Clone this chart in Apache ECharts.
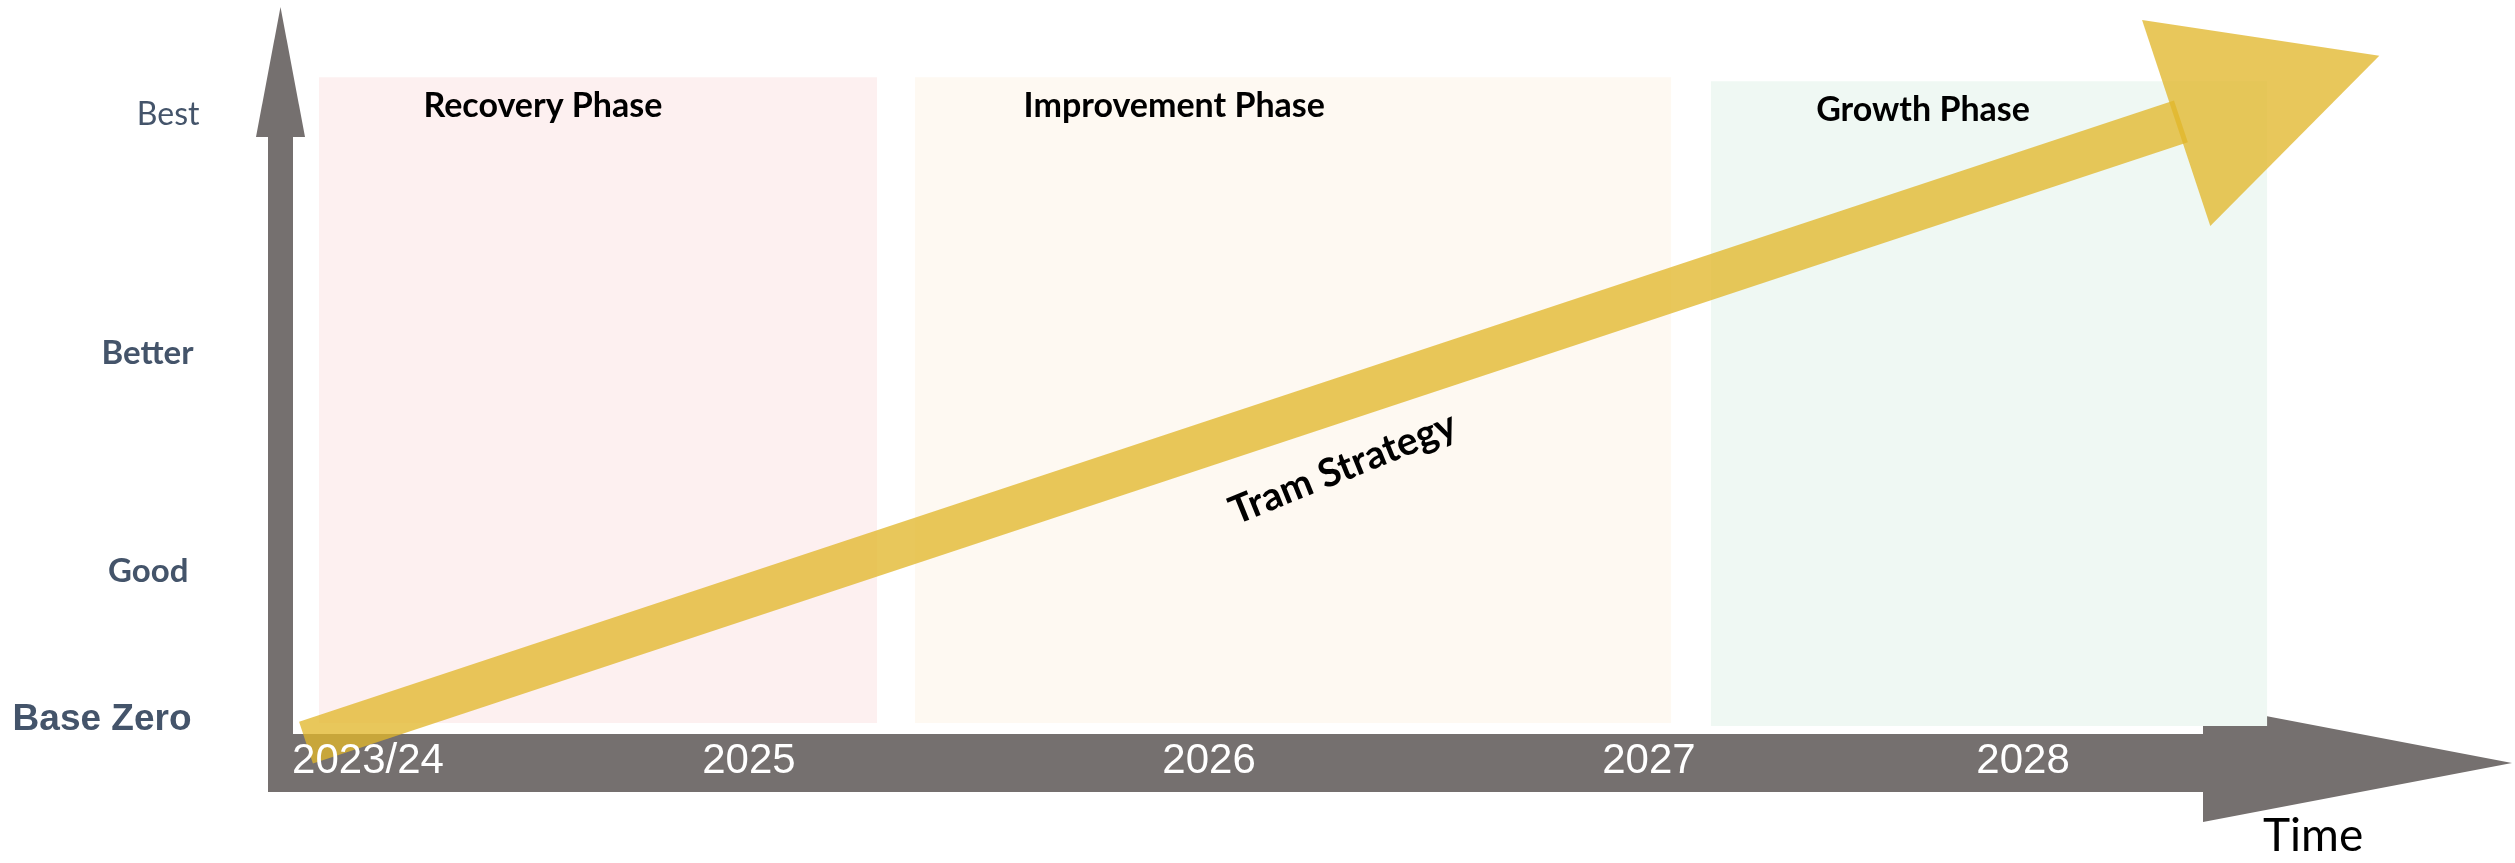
<!DOCTYPE html>
<html>
<head>
<meta charset="utf-8">
<script src="https://cdn.jsdelivr.net/npm/echarts@6/dist/echarts.min.js"></script>
<style>
html,body{margin:0;padding:0;background:#fff;}
#chart{width:2515px;height:863px;}
</style>
</head>
<body>
<div id="chart"></div>
<script>
// ---- data (timeline 0-100 on x, performance index 0-100 on y) ----
const yearLabels = ['2023/24', '2025', '2026', '2027', '2028'];
const yearPositions = [4.92, 23.67, 46.31, 67.96, 86.37];

const levelLabels = ['Base Zero', 'Good', 'Better', 'Best'];
const levelValues = [10.4, 31.94, 63.44, 97.83];

const phaseNames = ['Recovery Phase', 'Improvement Phase', 'Growth Phase'];
const phaseStart = [2.51, 31.84, 71.01];
const phaseEnd = [29.97, 69.05, 98.38];
const phaseBottom = [9.97, 9.97, 9.54];
const phaseTop = [103.3, 103.3, 102.7];
const phaseTitleX = [13.53, 44.6, 81.45];
const phaseTitleY = [99.13, 99.13, 98.55];

const strategyName = 'Tram Strategy';
const strategyFrom = [1.87, 7.15];
const strategyTo = [94.14, 96.9];
const strategyLabelAt = [52.9, 46.8];

const axisNameX = 'Time';

// ---- styles ----
const GRAY = '#75706f';
const GOLD = 'rgba(225,182,41,0.77)';
const phaseColors = ['#fdf0f0', '#fef9f2', '#eff8f3'];
const levelStyleKeys = ['base', 'good', 'better', 'best'];

const chart = echarts.init(document.getElementById('chart'), null, {renderer: 'canvas'});

const phaseData = phaseNames.map((n, i) => [phaseStart[i], phaseEnd[i], phaseBottom[i], phaseTop[i], phaseTitleX[i], phaseTitleY[i]]);

function nearestIndex(arr, v) {
  let best = 0, d = Infinity;
  arr.forEach((p, i) => { if (Math.abs(p - v) < d) { d = Math.abs(p - v); best = i; } });
  return best;
}

const option = {
  backgroundColor: '#ffffff',
  animation: false,
  title: {
    text: axisNameX, left: 2263, top: 813, padding: 0,
    textStyle: {fontFamily: 'Lato', fontSize: 46, fontWeight: 'normal', color: '#000000'}
  },
  grid: {left: 268, right: 215, top: 100, bottom: 71, containLabel: false},
  xAxis: [
    {
      type: 'value', min: 0, max: 100, position: 'bottom', offset: -29, z: 0,
      axisLine: {show: true, lineStyle: {color: GRAY, width: 58, cap: 'butt'},
        symbol: ['none', 'triangle'], symbolSize: [118, 309], symbolOffset: [0, 57.5]},
      axisTick: {show: false}, axisLabel: {show: false}, splitLine: {show: false}
    },
    {
      type: 'value', min: 0, max: 100, position: 'bottom', offset: -29, z: 10,
      axisLine: {show: false}, axisTick: {show: false}, splitLine: {show: false},
      axisLabel: {
        show: true, customValues: yearPositions, margin: -2, verticalAlign: 'middle', align: 'center',
        color: '#ffffff', fontFamily: 'Liberation Sans', fontSize: 42,
        formatter: function (v) { return yearLabels[nearestIndex(yearPositions, v)]; }
      }
    }
  ],
  yAxis: {
    type: 'value', min: 0, max: 100, position: 'left', offset: -12.5, z: 0,
    axisLine: {show: true, lineStyle: {color: GRAY, width: 25, cap: 'butt'},
      symbol: ['none', 'triangle'], symbolSize: [49, 130], symbolOffset: [0, 28]},
    axisTick: {show: false}, splitLine: {show: false},
    axisLabel: {
      show: true, customValues: levelValues, margin: 81, align: 'right', verticalAlign: 'middle',
      formatter: function (v) {
        const i = nearestIndex(levelValues, v);
        return '{' + levelStyleKeys[i] + '|' + levelLabels[i] + '}';
      },
      rich: {
        best: {fontFamily: 'Lato', fontSize: 32, fontWeight: 'normal', color: '#44546a'},
        better: {fontFamily: 'Lato', fontSize: 33, fontWeight: 'bold', color: '#44546a', padding: [0, 6, 0, 0]},
        good: {fontFamily: 'Lato', fontSize: 33, fontWeight: 'bold', color: '#44546a', padding: [0, 11, 0, 0]},
        base: {fontFamily: 'Liberation Sans', fontSize: 37, fontWeight: 'bold', color: '#44546a', padding: [0, 8, 0, 0]}
      }
    }
  },
  series: [
    {
      type: 'custom', name: 'Phases', xAxisIndex: 0, yAxisIndex: 0, clip: false, z: 1,
      data: phaseData,
      renderItem: function (params, api) {
        const i = params.dataIndex;
        const tl = api.coord([api.value(0), api.value(3)]);
        const br = api.coord([api.value(1), api.value(2)]);
        const t = api.coord([api.value(4), api.value(5)]);
        return {
          type: 'group',
          children: [
            {type: 'rect', shape: {x: tl[0], y: tl[1], width: br[0] - tl[0], height: br[1] - tl[1]},
              style: {fill: phaseColors[i]}},
            {type: 'text', x: t[0], y: t[1], z2: 5,
              style: {text: phaseNames[i], fontFamily: 'Lato', fontSize: 34, fontWeight: 'bold',
                fill: '#000000', align: 'center', verticalAlign: 'middle'}}
          ]
        };
      }
    },
    {
      type: 'custom', name: strategyName, xAxisIndex: 0, yAxisIndex: 0, clip: false, z: 3,
      data: [[strategyFrom[0], strategyFrom[1], strategyTo[0], strategyTo[1], strategyLabelAt[0], strategyLabelAt[1]]],
      renderItem: function (params, api) {
        const a = api.coord([api.value(0), api.value(1)]);
        const b = api.coord([api.value(2), api.value(3)]);
        const lp = api.coord([api.value(4), api.value(5)]);
        const dx = b[0] - a[0], dy = b[1] - a[1];
        const L = Math.hypot(dx, dy);
        const ux = dx / L, uy = dy / L, nx = -uy, ny = ux;
        const hw = 22;            // half shaft width
        const headHalf = 108.5;   // half head base
        const headLen = 214;
        const overlap = 5;
        const bm = [b[0] - ux * overlap, b[1] - uy * overlap];
        const tip = [bm[0] + ux * headLen, bm[1] + uy * headLen];
        return {
          type: 'group',
          children: [
            {type: 'polygon', shape: {points: [
              [a[0] + nx * hw, a[1] + ny * hw], [b[0] + nx * hw, b[1] + ny * hw],
              [b[0] - nx * hw, b[1] - ny * hw], [a[0] - nx * hw, a[1] - ny * hw]]},
              style: {fill: GOLD}},
            {type: 'polygon', shape: {points: [
              [bm[0] + nx * headHalf, bm[1] + ny * headHalf], tip,
              [bm[0] - nx * headHalf, bm[1] - ny * headHalf]]},
              style: {fill: GOLD}},
            {type: 'text', x: lp[0], y: lp[1], rotation: 22 * Math.PI / 180,
              style: {text: strategyName, fontFamily: 'Lato', fontSize: 39, fontWeight: 'bold',
                fill: '#000000', align: 'center', verticalAlign: 'middle'}}
          ]
        };
      }
    }
  ]
};
chart.setOption(option);
</script>
</body>
</html>
